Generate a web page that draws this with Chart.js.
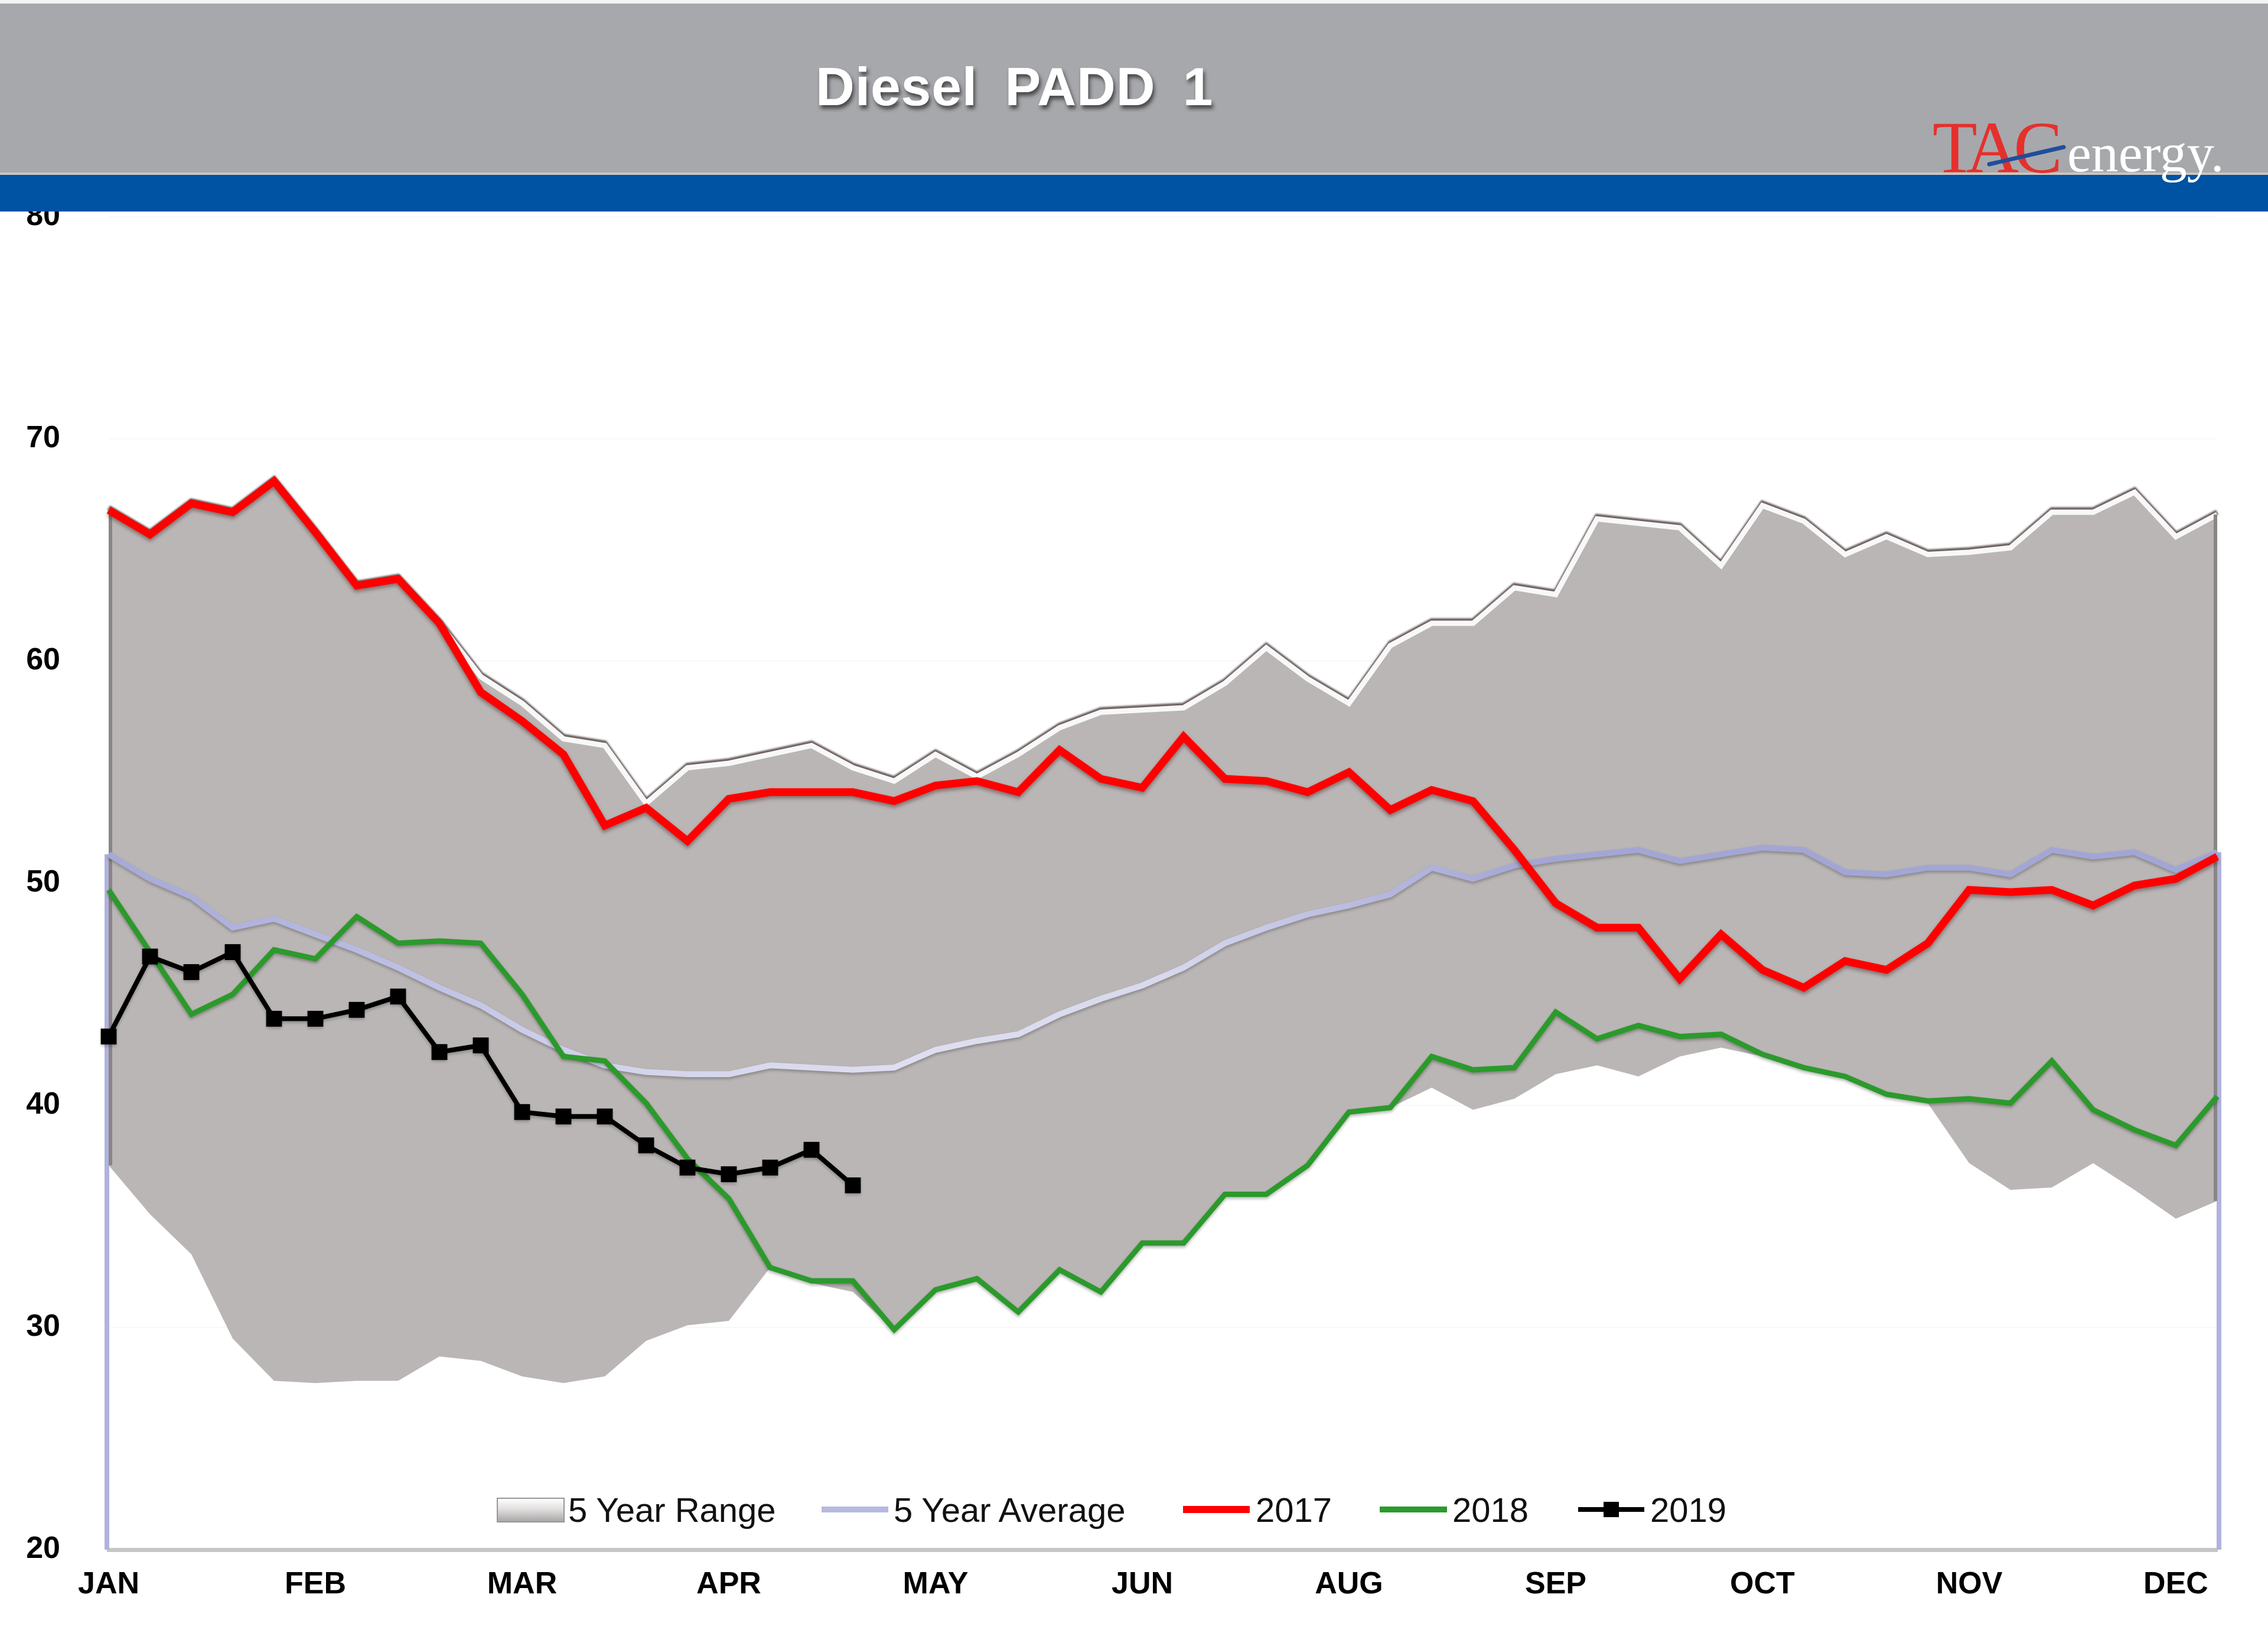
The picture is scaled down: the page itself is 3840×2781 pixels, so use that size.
<!DOCTYPE html>
<html>
<head>
<meta charset="utf-8">
<title>Diesel PADD 1</title>
<script src="https://cdn.jsdelivr.net/npm/chart.js@4.4.1/dist/chart.umd.min.js"></script>
<style>
  html, body { margin: 0; padding: 0; background: #ffffff; overflow: hidden; }
  #wrap { position: relative; width: 3840px; height: 2781px; }
  #chart { position: absolute; left: 0; top: 0; }
  #overlay { position: absolute; left: 0; top: 0; pointer-events: none; }
</style>
</head>
<body>
<div id="wrap">
  <canvas id="chart" width="3840" height="2781"></canvas>
  <svg id="overlay" width="3840" height="2781" xmlns="http://www.w3.org/2000/svg">
    <defs>
      <filter id="titleShadow" x="-10%" y="-30%" width="120%" height="170%">
        <feDropShadow dx="3" dy="6" stdDeviation="3" flood-color="#333333" flood-opacity="0.8"/>
      </filter>
      <linearGradient id="rangeIcon" x1="0" y1="0" x2="0" y2="1">
        <stop offset="0" stop-color="#ffffff"/>
        <stop offset="0.45" stop-color="#e2e0e0"/>
        <stop offset="1" stop-color="#a9a5a4"/>
      </linearGradient>
    </defs>
    <!-- header band -->
    <rect x="0" y="0" width="3840" height="6" fill="#f3f3f3"/>
    <rect x="0" y="6" width="3840" height="286" fill="#a7a8ac"/>
    <rect x="0" y="292" width="3840" height="4" fill="#cdc6bd"/>
    <rect x="0" y="296" width="3840" height="62" fill="#0052a2"/>
    <text x="1381" y="178" font-family="'Liberation Sans', Arial, sans-serif" font-weight="bold"
          font-size="91" letter-spacing="1" word-spacing="20" fill="#ffffff" filter="url(#titleShadow)">Diesel PADD 1</text>
    <!-- logo -->
    <text x="3272" y="292" font-family="'Liberation Serif', 'Times New Roman', serif" font-size="124"
          letter-spacing="-9" fill="#e5302c">TAC</text>
    <line x1="3368" y1="278" x2="3494" y2="249" stroke="#1f4e9c" stroke-width="7" stroke-linecap="round"/>
    <text x="3500" y="290" font-family="'Liberation Serif', 'Times New Roman', serif" font-size="92"
          fill="#ffffff">energy.</text>

    <!-- legend -->
    <g font-family="'Liberation Sans', Arial, sans-serif" font-size="58" fill="#111111">
      <rect x="842" y="2536" width="113" height="40" fill="url(#rangeIcon)" stroke="#9b9696" stroke-width="2"/>
      <text x="962" y="2576">5 Year Range</text>
      <line x1="1391" y1="2555" x2="1504" y2="2555" stroke="#b7b9df" stroke-width="10"/>
      <text x="1513" y="2576">5 Year Average</text>
      <line x1="2003" y1="2555" x2="2116" y2="2555" stroke="#ff0000" stroke-width="12"/>
      <text x="2126" y="2576">2017</text>
      <line x1="2336" y1="2555" x2="2450" y2="2555" stroke="#2b9a2b" stroke-width="10"/>
      <text x="2459" y="2576">2018</text>
      <line x1="2672" y1="2555" x2="2784" y2="2555" stroke="#000000" stroke-width="8"/>
      <rect x="2715" y="2542" width="26" height="26" fill="#000000"/>
      <text x="2794" y="2576">2019</text>
    </g>
  </svg>
</div>

<script>
// weekly points, one label every 5 weeks (no JUL on the source axis)
const monthLabels = ['JAN', 'FEB', 'MAR', 'APR', 'MAY', 'JUN', 'AUG', 'SEP', 'OCT', 'NOV', 'DEC'];

const rangeHigh = [66.8, 65.7, 67.1, 66.7, 68.1, 65.8, 63.4, 63.7, 61.7, 59.3,
                   58.1, 56.5, 56.2, 53.6, 55.2, 55.4, 55.8, 56.2, 55.2, 54.6,
                   55.8, 54.8, 55.8, 57.0, 57.7, 57.8, 57.9, 59.0, 60.6, 59.2,
                   58.1, 60.7, 61.7, 61.7, 63.3, 63.0, 66.4, 66.2, 66.0, 64.3,
                   67.0, 66.3, 64.8, 65.6, 64.8, 64.9, 65.1, 66.7, 66.7, 67.6,
                   65.6, 66.6];

const rangeLow = [37.3, 35.1, 33.3, 29.5, 27.6, 27.5, 27.6, 27.6, 28.7, 28.5,
                  27.8, 27.5, 27.8, 29.4, 30.1, 30.3, 32.7, 32.0, 31.6, 29.9,
                  31.7, 32.2, 30.7, 32.6, 31.6, 33.8, 33.8, 36.0, 36.0, 37.3,
                  39.7, 39.9, 40.8, 39.8, 40.3, 41.4, 41.8, 41.3, 42.2, 42.6,
                  42.2, 41.6, 41.2, 40.4, 40.1, 37.4, 36.2, 36.3, 37.4, 36.2,
                  34.9, 35.7];

const avg5yr = [51.3, 50.2, 49.4, 48.0, 48.4, 47.7, 47.0, 46.2, 45.3, 44.5,
                43.4, 42.5, 41.8, 41.5, 41.4, 41.4, 41.8, 41.7, 41.6, 41.7,
                42.5, 42.9, 43.2, 44.1, 44.8, 45.4, 46.2, 47.3, 48.0, 48.6,
                49.0, 49.5, 50.7, 50.2, 50.8, 51.1, 51.3, 51.5, 51.0, 51.3,
                51.6, 51.5, 50.5, 50.4, 50.7, 50.7, 50.4, 51.5, 51.2, 51.4,
                50.6, 51.4];

const y2017 = [66.8, 65.7, 67.1, 66.7, 68.1, 65.8, 63.4, 63.7, 61.7, 58.6,
               57.3, 55.8, 52.6, 53.4, 51.9, 53.8, 54.1, 54.1, 54.1, 53.7,
               54.4, 54.6, 54.1, 56.0, 54.7, 54.3, 56.6, 54.7, 54.6, 54.1,
               55.0, 53.3, 54.2, 53.7, 51.5, 49.1, 48.0, 48.0, 45.7, 47.7,
               46.1, 45.3, 46.5, 46.1, 47.3, 49.7, 49.6, 49.7, 49.0, 49.9,
               50.2, 51.2];

const y2018 = [49.7, 46.9, 44.1, 45.0, 47.0, 46.6, 48.5, 47.3, 47.4, 47.3,
               45.0, 42.2, 42.0, 40.1, 37.6, 35.8, 32.7, 32.1, 32.1, 29.9,
               31.7, 32.2, 30.7, 32.6, 31.6, 33.8, 33.8, 36.0, 36.0, 37.3,
               39.7, 39.9, 42.2, 41.6, 41.7, 44.2, 43.0, 43.6, 43.1, 43.2,
               42.3, 41.7, 41.3, 40.5, 40.2, 40.3, 40.1, 42.0, 39.8, 38.9,
               38.2, 40.4];

const y2019 = [43.1, 46.7, 46.0, 46.9, 43.9, 43.9, 44.3, 44.9, 42.4, 42.7,
               39.7, 39.5, 39.5, 38.2, 37.2, 36.9, 37.2, 38.0, 36.4];

const weeks = rangeHigh.map((_, i) => i);

// avg line fades lighter through spring, like the source
const avgGradient = (context) => {
    const { ctx, chartArea } = context.chart;
    if (!chartArea) return '#a8abd7';
    const g = ctx.createLinearGradient(chartArea.left, 0, chartArea.right, 0);
    g.addColorStop(0, '#a6a9d6');
    g.addColorStop(0.12, '#b9bbe1');
    g.addColorStop(0.22, '#d0d1eb');
    g.addColorStop(0.38, '#dfdff1');
    g.addColorStop(0.5, '#d8d9ee');
    g.addColorStop(0.6, '#b6b8df');
    g.addColorStop(0.68, '#a3a6d4');
    g.addColorStop(1, '#a3a6d4');
    return g;
};

// soft drop shadow under each line
const lineShadow = {
    id: 'lineShadow',
    beforeDatasetDraw(chart, args) {
        const ctx = chart.ctx;
        const s = chart.data.datasets[args.index].shadow;
        ctx.save();
        if (s) {
            ctx.shadowColor = s.color;
            ctx.shadowBlur = s.blur;
            ctx.shadowOffsetX = 0;
            ctx.shadowOffsetY = s.y;
        }
    },
    afterDatasetDraw(chart) {
        chart.ctx.restore();
    }
};

// end caps of the range area and the avg drop lines at both ends
const rangeEdges = {
    id: 'rangeEdges',
    afterDatasetDraw(chart, args) {
        if (chart.data.datasets[args.index].label !== '5 Year Range') return;
        const { ctx, scales: { x, y } } = chart;
        const last = rangeHigh.length - 1;
        ctx.save();
        [[0, -3, 3], [last, 3, -3]].forEach(([i, dAvg, dEdge]) => {
            const px = x.getPixelForValue(i);
            ctx.strokeStyle = '#b0b3dc';
            ctx.lineWidth = 8;
            ctx.beginPath();
            ctx.moveTo(px + dAvg, y.getPixelForValue(avg5yr[i]));
            ctx.lineTo(px + dAvg, y.getPixelForValue(y.min));
            ctx.stroke();
            ctx.strokeStyle = '#8a8585';
            ctx.lineWidth = 6;
            ctx.beginPath();
            ctx.moveTo(px + dEdge, y.getPixelForValue(rangeHigh[i]));
            ctx.lineTo(px + dEdge, y.getPixelForValue(rangeLow[i]));
            ctx.stroke();
        });
        ctx.restore();
    }
};

const tickFont = { family: "'Liberation Sans', Arial, sans-serif", size: 52, weight: 'bold' };

new Chart(document.getElementById('chart').getContext('2d'), {
    type: 'line',
    data: {
        labels: weeks,
        datasets: [
            {
                label: '2019',
                data: y2019,
                order: 0,
                borderColor: '#000000',
                borderWidth: 8,
                pointStyle: 'rect',
                pointRadius: 19,
                pointBackgroundColor: '#000000',
                pointBorderColor: '#000000',
                pointBorderWidth: 0,
                tension: 0,
                fill: false,
                shadow: { color: 'rgba(0,0,0,0.25)', blur: 5, y: 3 },
            },
            {
                label: '2017',
                data: y2017,
                order: 1,
                borderColor: '#ff0000',
                borderWidth: 13,
                pointRadius: 0,
                tension: 0,
                fill: false,
                shadow: { color: 'rgba(60,20,20,0.45)', blur: 6, y: 4 },
            },
            {
                label: '2018',
                data: y2018,
                order: 2,
                borderColor: '#2b9a2b',
                borderWidth: 9,
                pointRadius: 0,
                tension: 0,
                fill: false,
                shadow: { color: 'rgba(0,0,0,0.3)', blur: 5, y: 3 },
            },
            {
                label: '5 Year Average',
                data: avg5yr,
                order: 3,
                borderColor: avgGradient,
                borderWidth: 10,
                pointRadius: 0,
                tension: 0,
                fill: false,
                shadow: { color: 'rgba(60,60,60,0.4)', blur: 5, y: 3 },
            },
            {
                label: '5 Year Range',
                data: rangeHigh,
                order: 4,
                borderColor: '#f8f8f8',
                borderWidth: 9,
                backgroundColor: '#bab6b5',
                pointRadius: 0,
                tension: 0,
                fill: '+1',
                shadow: { color: 'rgba(90,75,75,0.9)', blur: 3, y: -4 },
            },
            {
                label: '5 Year Range low',
                data: rangeLow,
                order: 5,
                borderWidth: 0,
                borderColor: 'rgba(0,0,0,0)',
                pointRadius: 0,
                tension: 0,
                fill: false,
            },
        ],
    },
    options: {
        responsive: false,
        devicePixelRatio: 1,
        animation: false,
        layout: { padding: { top: 367, right: 86, left: 0, bottom: 0 } },
        plugins: {
            legend: { display: false },
            tooltip: { enabled: false },
            title: { display: false },
        },
        scales: {
            x: {
                type: 'category',
                offset: false,
                grid: { display: false, drawTicks: false },
                border: { display: true, color: '#c6c6c6', width: 7 },
                ticks: {
                    autoSkip: false,
                    maxRotation: 0,
                    minRotation: 0,
                    padding: 28,
                    color: '#000000',
                    font: tickFont,
                    callback: (value, index) => (index % 5 === 0 ? (monthLabels[index / 5] || '') : ''),
                },
                afterFit: (scale) => { scale.height = 158; },
            },
            y: {
                min: 20,
                max: 80,
                grid: { color: '#f8f8f8', lineWidth: 2, drawTicks: false },
                border: { display: false },
                ticks: {
                    stepSize: 10,
                    padding: 82,
                    color: '#000000',
                    font: tickFont,
                },
                afterFit: (scale) => { scale.width = 184; },
            },
        },
    },
    plugins: [lineShadow, rangeEdges],
});
</script>
</body>
</html>
